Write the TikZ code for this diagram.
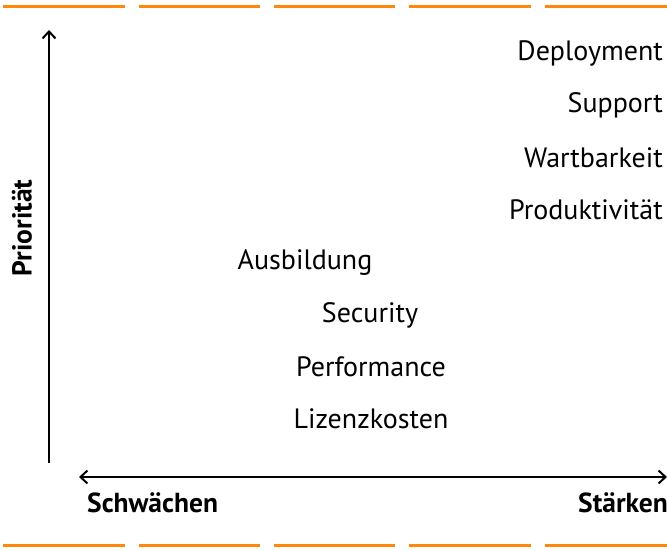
\documentclass[tikz,border=0pt]{standalone}
\usepackage{fontspec}
\setmainfont{PT Sans}
\usetikzlibrary{arrows.meta}
\definecolor{dashorange}{RGB}{255,135,10}
\begin{document}
\begin{tikzpicture}[x=1pt,y=-1pt,
  item/.style={font=\fontsize{28}{32}\selectfont, inner sep=0pt},
  axislabel/.style={font=\fontsize{27.5}{32}\selectfont\bfseries, inner sep=0pt},
  tip/.style={},
  axis/.style={line width=2.2pt},
  deco/.style={dashorange, line width=3pt}]
\useasboundingbox (0,0) rectangle (667,551);
% orange dashes
\foreach \a/\b in {3/125,139/260,274/395,409/531,545/667}{
  \draw[deco] (\a,7) -- (\b,7);
  \draw[deco] (\a,545) -- (\b,545);
}
% axes
\coordinate (ybot) at (49,463);
\coordinate (ytop) at (49,30);
\coordinate (xleft) at (79,477);
\coordinate (xright) at (667,477);
\draw[axis, -{Straight Barb[length=7pt,width=13pt,line width=2pt]}] (ybot) -- (ytop);
\draw[axis, {Straight Barb[length=7pt,width=13pt,line width=2pt]}-{Straight Barb[length=7pt,width=13pt,line width=2pt]}] (xleft) -- (xright);
% labels
\node[axislabel, rotate=90] (prio) at (22,228) {Priorität};
\node[axislabel, anchor=west] (schw) at (87,503) {Schwächen};
\node[axislabel, anchor=west] (staerk) at (578,503) {Stärken};
% items
\node[item, anchor=east] (deploy) at (663,53) {Deployment};
\node[item, anchor=east] (support) at (663,105) {Support};
\node[item, anchor=east] (wart) at (663,158) {Wartbarkeit};
\node[item, anchor=east] (prod) at (663,210) {Produktivität};
\node[item] (ausb) at (305,263) {Ausbildung};
\node[item] (sec) at (370,315) {Security};
\node[item] (perf) at (371,367) {Performance};
\node[item] (liz) at (371,419) {Lizenzkosten};
\end{tikzpicture}
\end{document}
